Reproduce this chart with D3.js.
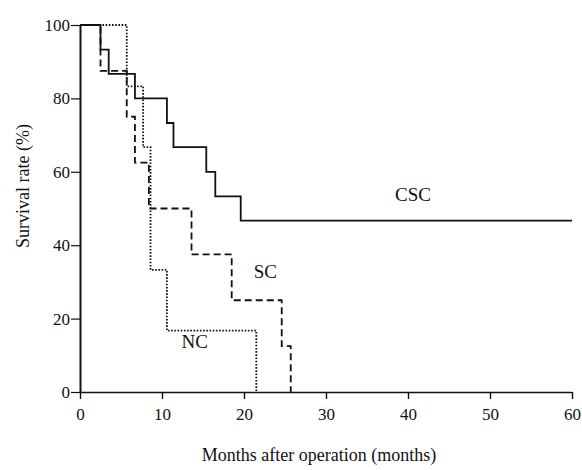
<!DOCTYPE html>
<html>
<head>
<meta charset="utf-8">
<script src="https://cdn.jsdelivr.net/npm/d3@7"></script>
<style>
  body { margin: 0; background: #fff; }
  text { font-family: 'Liberation Serif', 'DejaVu Serif', serif; fill: #111; }
</style>
</head>
<body>
<div id="chart"></div>
<script>
// step curves: time of each step (months) and survival after it (%)
const cscTimes = [0, 2.5, 3.5, 6.7, 10.6, 11.4, 15.4, 16.5, 19.6, 60]
const cscSurv = [100, 93.3, 86.7, 80, 73.3, 66.7, 60, 53.3, 46.7, 46.7]
const scTimes = [0, 2.5, 5.7, 6.7, 8.4, 13.6, 18.5, 24.6, 25.7]
const scSurv = [100, 87.5, 75, 62.5, 50, 37.5, 25, 12.5, 0]
const ncTimes = [0, 5.7, 7.7, 8.6, 10.6, 21.5]
const ncSurv = [100, 83.3, 66.7, 33.3, 16.7, 0]
const xTicks = [0, 10, 20, 30, 40, 50, 60]
const yTicks = [0, 20, 40, 60, 80, 100]

const width = 582,
  height = 470
const margin = { top: 25, right: 10, bottom: 78, left: 80 }

let svg = d3
  .select('#chart')
  .append('svg')
  .attr('width', width)
  .attr('height', height)

let x = d3
  .scaleLinear()
  .domain([0, 60])
  .range([margin.left, width - margin.right])
let y = d3
  .scaleLinear()
  .domain([0, 100])
  .range([height - margin.bottom, margin.top])

// x axis
let xAxis = svg
  .append('g')
  .attr('transform', 'translate(0,' + y(0) + ')')
  .call(d3.axisBottom(x).tickValues(xTicks).tickSize(7).tickSizeOuter(0))
xAxis.select('.domain').attr('stroke', '#111').attr('stroke-width', 1.6)
xAxis.selectAll('.tick line').attr('stroke', '#111').attr('stroke-width', 1.4)
xAxis
  .selectAll('.tick text')
  .attr('dy', '1.05em')
  .style('font-size', '17px')

// y axis
let yAxis = svg
  .append('g')
  .attr('transform', 'translate(' + x(0) + ',0)')
  .call(d3.axisLeft(y).tickValues(yTicks).tickSize(9).tickSizeOuter(0))
yAxis.select('.domain').attr('stroke', '#111').attr('stroke-width', 2)
yAxis.selectAll('.tick line').attr('stroke', '#111').attr('stroke-width', 1.2)
yAxis
  .selectAll('.tick text')
  .attr('x', -10)
  .style('font-size', '17px')

// survival curves
let line = d3
  .line()
  .x(d => x(d[0]))
  .y(d => y(d[1]))
  .curve(d3.curveStepAfter)

let series = [
  { times: ncTimes, surv: ncSurv, dash: '1.6,1.6', w: 1.8 },
  { times: scTimes, surv: scSurv, dash: '7,4', w: 1.8 },
  { times: cscTimes, surv: cscSurv, dash: null, w: 1.8 },
]

series.forEach(function(s) {
  svg
    .append('path')
    .datum(d3.zip(s.times, s.surv))
    .attr('d', line)
    .attr('fill', 'none')
    .attr('stroke', '#111')
    .attr('stroke-width', s.w)
    .attr('stroke-dasharray', s.dash)
})

// curve labels
let labels = [
  { name: 'CSC', t: 40.6, v: 52 },
  { name: 'SC', t: 22.6, v: 31 },
  { name: 'NC', t: 14.0, v: 12 },
]
svg
  .selectAll('text.curve-label')
  .data(labels)
  .enter()
  .append('text')
  .classed('curve-label', true)
  .attr('x', d => x(d.t))
  .attr('y', d => y(d.v))
  .attr('text-anchor', 'middle')
  .style('font-size', '19px')
  .text(d => d.name)

// axis titles
svg
  .append('text')
  .attr('x', 319)
  .attr('y', 461)
  .attr('text-anchor', 'middle')
  .style('font-size', '18px')
  .text('Months after operation (months)')

svg
  .append('text')
  .attr('transform', 'translate(29,186) rotate(-90)')
  .attr('text-anchor', 'middle')
  .style('font-size', '18px')
  .text('Survival rate (%)')
</script>
</body>
</html>
